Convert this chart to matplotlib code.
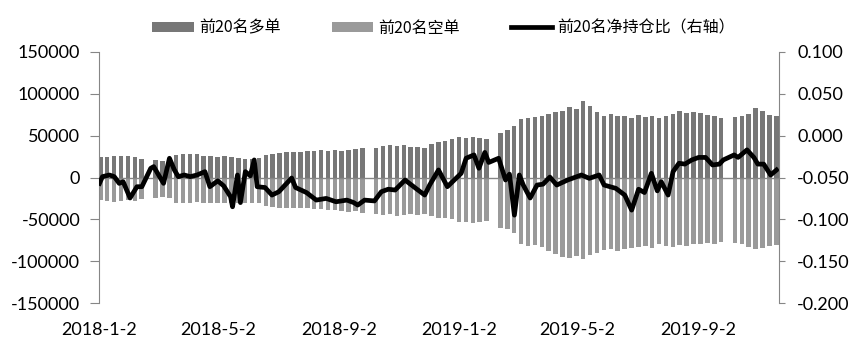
import matplotlib
matplotlib.use("Agg")
import matplotlib.pyplot as plt
import numpy as np
import pandas as pd

plt.rcParams['font.family'] = ['Lato', 'Noto Sans CJK SC', 'DejaVu Sans']
plt.rcParams['axes.unicode_minus'] = False

nan = np.nan

# 周度数据（节假日周为空）
weeks = pd.date_range("2018-01-01", periods=99, freq="W-MON")

long_pos = [
    25000, 24000, 26000, 25500, 26000, 25000, 22000, nan, 21000, 20000,
    23000, 27000, 28000, 27500, 28000, 26000, 25500, 25000, 26000, 25000,
    23000, 22000, 22000, 23000, 27000, 28000, 29000, 30000, 31000, 31000,
    32000, 32000, 33000, 32000, 33000, 32000, 33000, 34000, 35000, nan,
    35000, 38000, 39000, 38000, 39000, 37000, 36000, 35000, 40000, 42000,
    44000, 46000, 48000, 47000, 49000, 47000, 46000, nan, 53000, 57000,
    62000, 70000, 71000, 72000, 73000, 76000, 78000, 80000, 84000, 82000,
    92000, 86000, 78000, 74000, 76000, 73000, 74000, 71000, 75000, 72000,
    74000, 71000, 73000, 76000, 79000, 77000, 78000, 77000, 75000, 73000,
    71000, nan, 72000, 74000, 76000, 83000, 80000, 75000, 73000,
]

short_pos = [
    -27000, -28000, -29000, -28000, -27000, -28000, -26000, nan, -24000, -23000,
    -25000, -30000, -31000, -30000, -29000, -31000, -30000, -31000, -31000, -31000,
    -30000, -30000, -31000, -30000, -34000, -35000, -36000, -37000, -36000, -36000,
    -37000, -38000, -38000, -39000, -39000, -40000, -41000, -40000, -42000, nan,
    -44000, -45000, -44000, -46000, -45000, -44000, -45000, -44000, -46000, -48000,
    -49000, -50000, -53000, -53000, -54000, -53000, -52000, nan, -60000, -62000,
    -66000, -80000, -82000, -81000, -83000, -88000, -92000, -95000, -96000, -94000,
    -98000, -93000, -90000, -87000, -86000, -88000, -85000, -84000, -83000, -82000,
    -84000, -80000, -82000, -83000, -81000, -82000, -80000, -79000, -78000, -80000,
    -77000, nan, -78000, -80000, -83000, -86000, -84000, -82000, -81000,
]

# 前20名净持仓比（右轴）
ratio_dates = [
    "2018-01-02", "2018-01-05", "2018-01-12", "2018-01-17", "2018-01-22", "2018-01-26",
    "2018-02-02", "2018-02-09", "2018-02-14", "2018-02-23", "2018-02-26", "2018-03-08",
    "2018-03-14", "2018-03-19", "2018-03-23", "2018-03-29", "2018-04-04", "2018-04-11",
    "2018-04-19", "2018-04-24", "2018-05-02", "2018-05-08", "2018-05-15", "2018-05-17",
    "2018-05-22", "2018-05-25", "2018-05-30", "2018-06-04", "2018-06-08", "2018-06-11",
    "2018-06-19", "2018-06-26", "2018-07-03", "2018-07-16", "2018-07-20", "2018-07-31",
    "2018-08-10", "2018-08-20", "2018-08-30", "2018-09-10", "2018-09-17", "2018-09-21",
    "2018-09-28", "2018-10-08", "2018-10-15", "2018-10-22", "2018-10-29", "2018-11-08",
    "2018-11-19", "2018-11-28", "2018-12-03", "2018-12-12", "2018-12-21", "2019-01-04",
    "2019-01-09", "2019-01-17", "2019-01-22", "2019-01-28", "2019-02-01", "2019-02-11",
    "2019-02-18", "2019-02-22", "2019-02-27", "2019-03-04", "2019-03-08", "2019-03-15",
    "2019-03-22", "2019-03-28", "2019-04-04", "2019-04-11", "2019-04-22", "2019-05-06",
    "2019-05-14", "2019-05-24", "2019-05-29", "2019-06-10", "2019-06-19", "2019-06-26",
    "2019-07-03", "2019-07-09", "2019-07-16", "2019-07-22", "2019-07-26", "2019-08-02",
    "2019-08-07", "2019-08-13", "2019-08-19", "2019-08-26", "2019-09-02", "2019-09-09",
    "2019-09-16", "2019-09-23", "2019-09-27", "2019-10-08", "2019-10-12", "2019-10-21",
    "2019-10-28", "2019-11-01", "2019-11-07", "2019-11-14", "2019-11-20",
]
ratio = [
    -0.057, -0.049, -0.047, -0.049, -0.057, -0.055,
    -0.0745, -0.061, -0.061, -0.039, -0.037, -0.057,
    -0.027, -0.041, -0.049, -0.047, -0.049, -0.047,
    -0.043, -0.061, -0.054, -0.060, -0.073, -0.085,
    -0.047, -0.080, -0.043, -0.048, -0.029, -0.061,
    -0.062, -0.071, -0.067, -0.0506, -0.062, -0.068,
    -0.077, -0.075, -0.079, -0.077, -0.080, -0.083,
    -0.077, -0.078, -0.067, -0.064, -0.065, -0.053,
    -0.063, -0.071, -0.059, -0.041, -0.061, -0.045,
    -0.027, -0.023, -0.039, -0.020, -0.032, -0.027,
    -0.053, -0.046, -0.095, -0.047, -0.059, -0.0745,
    -0.059, -0.058, -0.0495, -0.059, -0.053, -0.047,
    -0.051, -0.047, -0.059, -0.063, -0.071, -0.089,
    -0.064, -0.068, -0.045, -0.066, -0.055, -0.071,
    -0.043, -0.033, -0.034, -0.029, -0.026, -0.026,
    -0.035, -0.034, -0.029, -0.023, -0.026, -0.017,
    -0.026, -0.034, -0.034, -0.047, -0.041,
]

xtick_dates = ["2018-01-02", "2018-05-02", "2018-09-02", "2019-01-02", "2019-05-02", "2019-09-02"]
xtick_labels = ["2018-1-2", "2018-5-2", "2018-9-2", "2019-1-2", "2019-5-2", "2019-9-2"]

axis_gray = "#868686"

fig = plt.figure(figsize=(8.62, 3.46), dpi=100)
ax = fig.add_axes([99 / 862, 1 - 303 / 346, 680 / 862, 251 / 346])

bar_x = weeks - pd.Timedelta(hours=12)
ax.bar(bar_x, long_pos, width=4.6, align="edge", color="#777777", label="前20名多单", zorder=2)
ax.bar(bar_x, short_pos, width=4.6, align="edge", color="#9a9a9a", label="前20名空单", zorder=2)
ax.axhline(0, color=axis_gray, lw=1, zorder=3)

ax.set_ylim(-150000, 150000)
ax.set_yticks([-150000, -100000, -50000, 0, 50000, 100000, 150000])
ax.set_yticklabels(["-150000", "-100000", "-50000", "0", "50000", "100000", "150000"])
ax.set_xlim(pd.Timestamp("2018-01-01 12:00"), pd.Timestamp("2019-11-22 12:00"))
ax.set_xticks(pd.to_datetime(xtick_dates))
ax.set_xticklabels(xtick_labels)

for s in ["top", "bottom", "right"]:
    ax.spines[s].set_visible(False)
ax.spines["left"].set_color(axis_gray)
ax.tick_params(axis="y", direction="out", length=6.5, color=axis_gray, labelsize=13, pad=7)
ax.tick_params(axis="x", length=0, labelsize=13, pad=14)

ax2 = ax.twinx()
ax2.plot(pd.to_datetime(ratio_dates), ratio, color="black", lw=3.4,
         solid_joinstyle="round", label="前20名净持仓比（右轴）")
ax2.set_ylim(-0.2, 0.1)
ax2.set_yticks([-0.2, -0.15, -0.1, -0.05, 0.0, 0.05, 0.1])
ax2.set_yticklabels(["-0.200", "-0.150", "-0.100", "-0.050", "0.000", "0.050", "0.100"])
for s in ["top", "bottom", "left"]:
    ax2.spines[s].set_visible(False)
ax2.spines["right"].set_color(axis_gray)
ax2.tick_params(axis="y", direction="out", length=4, color=axis_gray, labelsize=13, pad=9)

h1, l1 = ax.get_legend_handles_labels()
h2, l2 = ax2.get_legend_handles_labels()
fig.legend(h1 + h2, l1 + l2, loc="center", bbox_to_anchor=(443.5 / 862, 1 - 28 / 346),
           ncol=3, frameon=False, prop={"family": "Noto Sans CJK SC", "size": 11.5},
           handlelength=2.6, handleheight=0.6, handletextpad=0.3, columnspacing=3.2)

fig.savefig("out.png", dpi=100)
